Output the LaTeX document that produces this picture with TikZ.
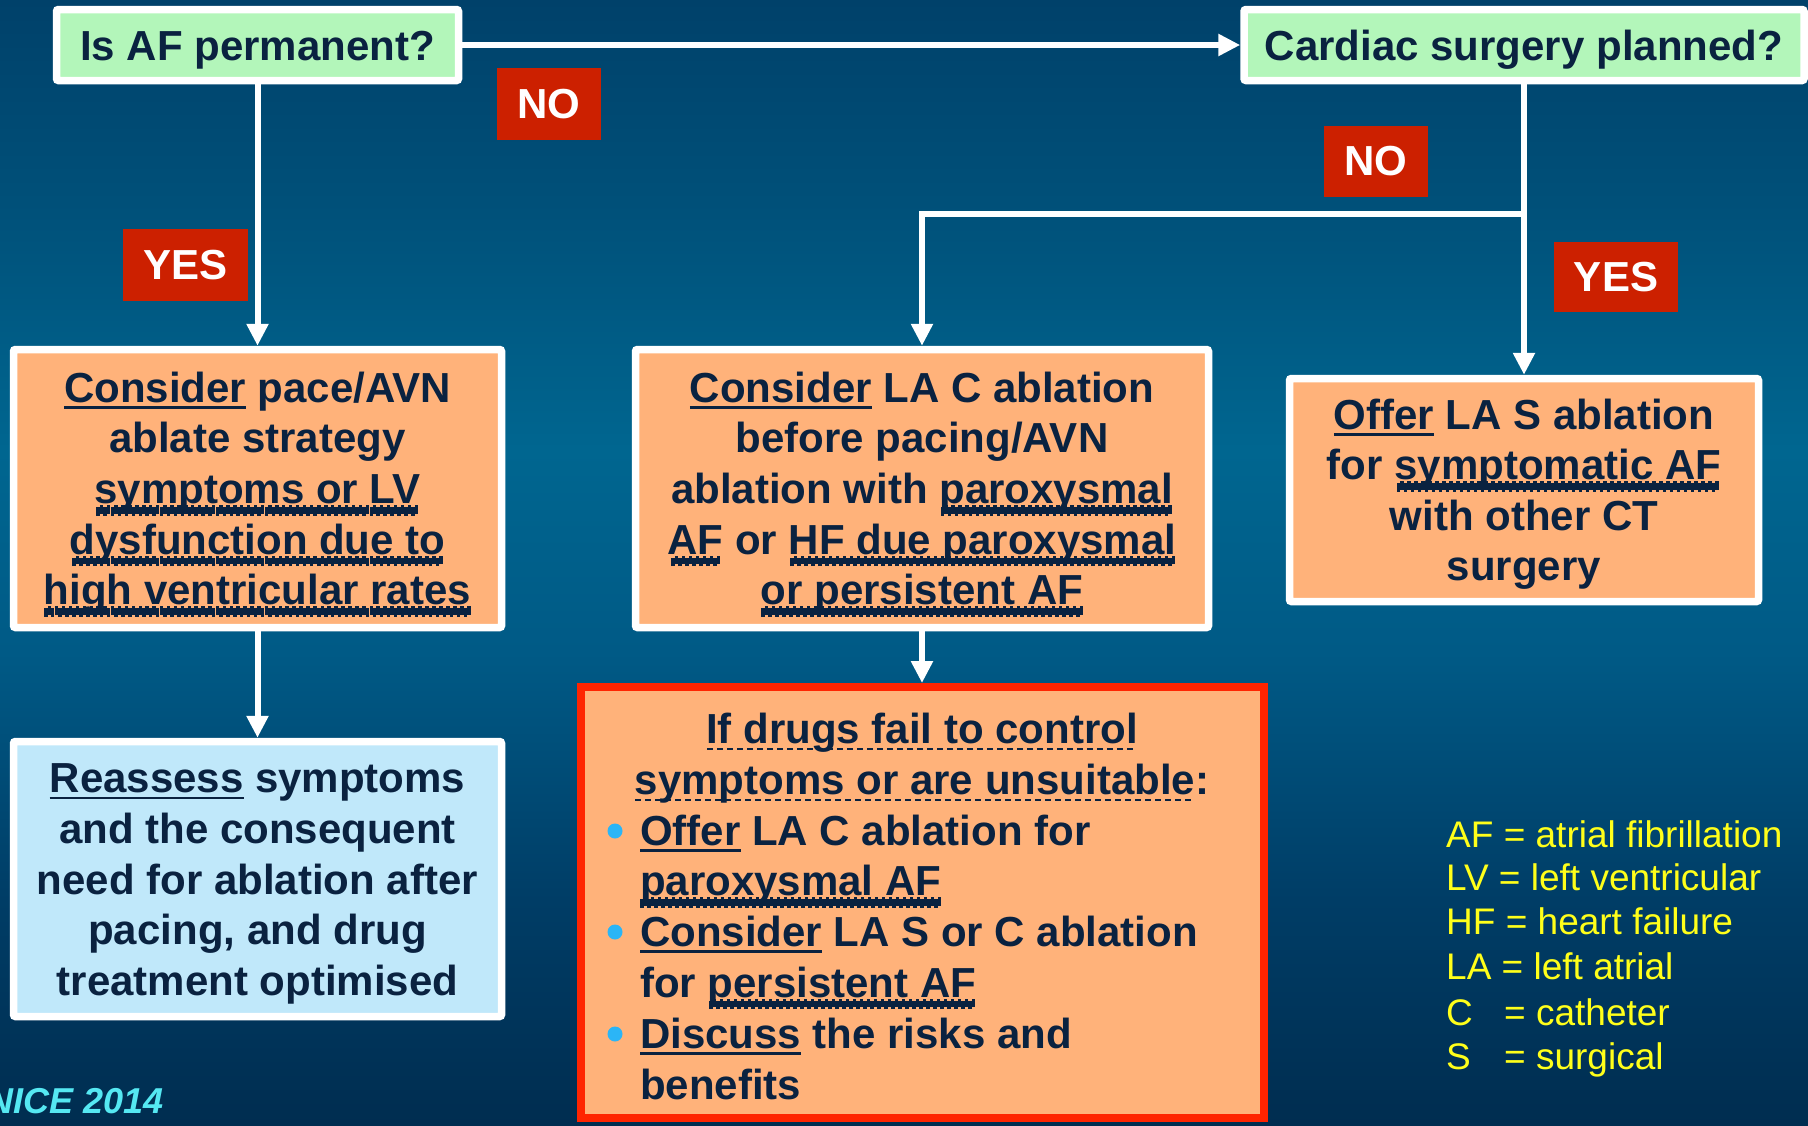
\documentclass[tikz,border=0pt]{standalone}
\usepackage{fontspec}
\setmainfont{Liberation Sans}
\usetikzlibrary{arrows.meta}
\definecolor{navy}{HTML}{0A2240}
\definecolor{boxgreen}{HTML}{B3F6BA}
\definecolor{boxorange}{HTML}{FFB27A}
\definecolor{boxblue}{HTML}{C0E8FA}
\definecolor{labred}{HTML}{CC2000}
\definecolor{brightred}{HTML}{FF2400}
\definecolor{bulblue}{HTML}{2BB5F6}
\definecolor{nicecyan}{HTML}{55E8F2}
\definecolor{legyellow}{HTML}{FFFF1A}
\definecolor{bgT}{HTML}{00416A}
\definecolor{bgA}{HTML}{005079}
\definecolor{bgM}{HTML}{006690}
\definecolor{bgC}{HTML}{005A86}
\definecolor{bgD}{HTML}{003D66}
\definecolor{bgB}{HTML}{002D50}
\pgfdeclareverticalshading{bgsh}{100bp}{color(0bp)=(bgB); color(25bp)=(bgB); color(35bp)=(bgD); color(46bp)=(bgC); color(55bp)=(bgM); color(66bp)=(bgA); color(75bp)=(bgT); color(100bp)=(bgT)}
\newcommand\bxf{\fontsize{42}{50.6}\selectfont\bfseries}
\newcommand\lgf{\fontsize{37}{44.6}\selectfont}
\newcommand\vstr{\rule[-10pt]{0pt}{50pt}}
\newsavebox\ulb
\newcommand\uln[1]{\leavevmode\sbox\ulb{#1}\smash{\rlap{\rule[-6.5pt]{\wd\ulb}{2.6pt}}}\usebox\ulb}
\newcommand\dln[1]{\leavevmode\sbox\ulb{#1}\smash{\rlap{\hbox to \wd\ulb{\cleaders\hbox{\rule[-7pt]{6pt}{2.4pt}\hskip4pt}\hfill}}}\usebox\ulb}
\newcommand\wv[1]{\leavevmode\sbox\ulb{#1}\smash{\rlap{\hbox to \wd\ulb{\cleaders\hbox{\rule[-12pt]{3.5pt}{8.5pt}\rule[-10pt]{3.5pt}{8.5pt}}\hfill}}}\usebox\ulb}
\tikzset{
  wbox/.style={draw=white, line width=7.5pt, rounded corners=2pt, inner sep=0pt, text=navy, font=\bxf, align=center},
  lab/.style={fill=labred, text=white, font=\bxf, inner sep=0pt},
  conn/.style={draw=white, line width=6pt, -{Triangle[width=21pt,length=22pt]}},
  txt/.style={text=navy, font=\bxf, inner sep=0pt},
  leg/.style={text=legyellow, font=\lgf, inner sep=0pt, anchor=base west},
  dot/.style={circle, fill=bulblue, minimum size=15pt, inner sep=0pt}
}
\begin{document}
\begin{tikzpicture}[x=1pt,y=-1pt]
\path[use as bounding box] (0,0) rectangle (1808,1125);
\shade[shading=bgsh] (0,0) rectangle (1808,1125);

% boxes
\node[wbox, fill=boxgreen, minimum width=402pt, minimum height=71pt] (af) at (257.5,45) {\vstr Is AF permanent?};
\node[wbox, fill=boxgreen, minimum width=560pt, minimum height=71pt] (cs) at (1524,45) {\vstr Cardiac surgery planned?};
\node[wbox, fill=boxorange, minimum width=488pt, minimum height=278pt] (pace) at (257.5,488.5)
 {\vstr\uln{Consider} pace/AVN\\ \vstr ablate strategy\\ \vstr\wv{symptoms or LV}\\ \vstr\wv{dysfunction due to}\\ \vstr\wv{high ventricular rates}};
\node[wbox, fill=boxblue, minimum width=488pt, minimum height=275pt] (reas) at (257.5,879)
 {\vstr\uln{Reassess} symptoms\\ \vstr and the consequent\\ \vstr need for ablation after\\ \vstr pacing, and drug\\ \vstr treatment optimised};
\node[wbox, fill=boxorange, minimum width=573pt, minimum height=278pt] (mid) at (922,488.5)
 {\vstr\uln{Consider} LA C ablation\\ \vstr before pacing/AVN\\ \vstr ablation with \wv{paroxysmal}\\ \vstr\wv{AF} or \wv{HF due paroxysmal}\\ \vstr\wv{or persistent AF}};
\node[wbox, fill=boxorange, minimum width=469pt, minimum height=223pt] (right) at (1524,490)
 {\vstr\uln{Offer} LA S ablation\\ \vstr for \wv{symptomatic AF}\\ \vstr with other CT\\ \vstr surgery};
\node[draw=brightred, line width=8pt, fill=boxorange, minimum width=683pt, minimum height=431pt, inner sep=0pt] (drug) at (922,902.5) {};

% drug box text
\node[txt, anchor=base] (h1) at (922,743) {\dln{If drugs fail to control}};
\node[txt, anchor=base] (h2) at (922,794) {\dln{symptoms or are unsuitable}:};
\node[txt, anchor=base west] (l1) at (640,845) {\uln{Offer} LA C ablation for};
\node[txt, anchor=base west] (l2) at (640,895.5) {\wv{paroxysmal AF}};
\node[txt, anchor=base west] (l3) at (640,946) {\uln{Consider} LA S or C ablation};
\node[txt, anchor=base west] (l4) at (640,997) {for \wv{persistent AF}};
\node[txt, anchor=base west] (l5) at (640,1048) {\uln{Discuss} the risks and};
\node[txt, anchor=base west] (l6) at (640,1099) {benefits};
\node[dot] (d1) at (615,831) {};
\node[dot] (d2) at (615,932) {};
\node[dot] (d3) at (615,1034) {};

% labels
\node[lab, minimum width=104pt, minimum height=72pt] (no1) at (549,104) {NO};
\node[lab, minimum width=125pt, minimum height=72pt] (yes1) at (185.5,265) {YES};
\node[lab, minimum width=104pt, minimum height=71pt] (no2) at (1376,161.5) {NO};
\node[lab, minimum width=124pt, minimum height=70pt] (yes2) at (1616,277) {YES};

% connectors
\draw[conn] (af.east) -- (cs.west);
\draw[conn] (af.south) -- (pace.north);
\draw[conn] (pace.south) -- (reas.north);
\draw[conn] (cs.south) -- (right.north);
\coordinate (br) at (1524,214);
\draw[conn] (br) -| (mid.north);
\draw[conn] (mid.south) -- (drug.north);

% legend
\node[leg] (lg1) at (1446,847) {AF = atrial fibrillation};
\node[leg] (lg2) at (1446,890) {LV = left ventricular};
\node[leg] (lg3) at (1446,934) {HF = heart failure};
\node[leg] (lg4) at (1446,979) {LA = left atrial};
\node[leg] (lg5) at (1446,1025) {\makebox[58pt][l]{C}= catheter};
\node[leg] (lg6) at (1446,1069) {\makebox[58pt][l]{S}= surgical};

\node[text=nicecyan, font=\fontsize{36}{43}\selectfont\bfseries\itshape, anchor=base east, inner sep=0pt] (nice) at (164,1113) {NICE 2014};
\end{tikzpicture}
\end{document}
